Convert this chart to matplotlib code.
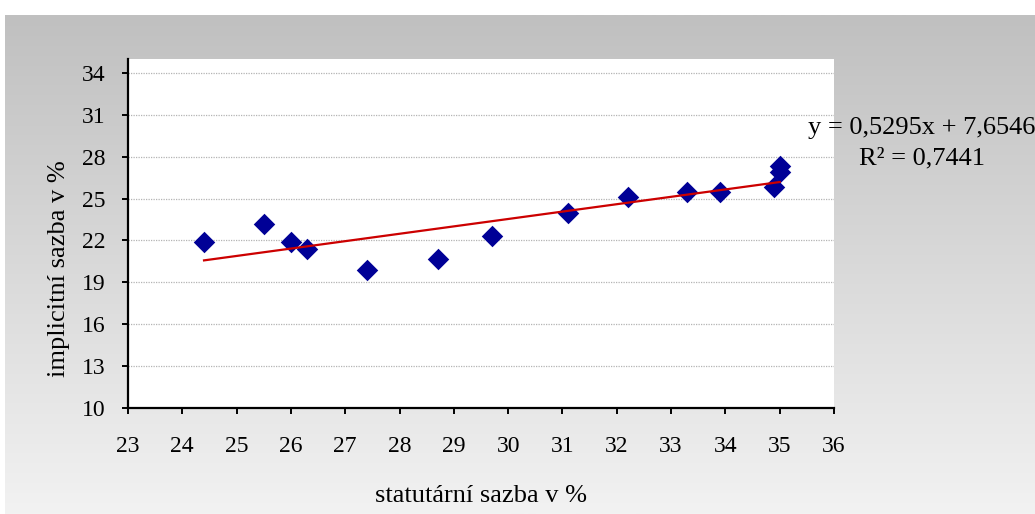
import matplotlib
matplotlib.use("Agg")
import matplotlib.pyplot as plt
import numpy as np

# data
statutarni = [24.4, 25.5, 26.0, 26.3, 27.4, 28.7, 29.7, 31.1, 32.2, 33.3, 33.9, 34.9, 35.0, 35.0]
implicitni = [21.9, 23.2, 21.9, 21.4, 19.9, 20.7, 22.3, 24.0, 25.1, 25.5, 25.5, 25.8, 27.35, 26.9]

# trend line as printed in the chart
slope = 0.5295
intercept = 7.6546
r2 = 0.7441

x_ticks = list(range(23, 37))
y_ticks = list(range(10, 35, 3))

plt.rcParams['font.family'] = ['Liberation Serif', 'DejaVu Serif']

fig = plt.figure(figsize=(10.35, 5.14), dpi=100)

# grey gradient background (white margin at top and left)
bg = fig.add_axes([5 / 1035, 0, 1 - 5 / 1035, 1 - 15 / 514], zorder=-10)
grad = np.linspace(192, 242, 256)[:, None] / 255.0
bg.imshow(np.dstack([grad, grad, grad]), aspect='auto', extent=[0, 1, 0, 1], origin='upper')
bg.axis('off')

ax = fig.add_axes([128 / 1035, (514 - 408) / 514, 706 / 1035, 349 / 514])
ax.set_facecolor('white')

ax.scatter(statutarni, implicitni, marker='D', s=120, color='#000096', zorder=3, linewidths=0)

xs = np.array([min(statutarni), max(statutarni)])
ax.plot(xs, slope * xs + intercept, color='#CC0000', lw=1.6, zorder=4)

ax.set_xlim(23, 36)
ax.set_ylim(10, 35)
ax.set_xticks(x_ticks)
ax.set_yticks(y_ticks)
ax.tick_params(axis='both', direction='out', length=4.5, width=1.4, labelsize=17)
ax.tick_params(axis='x', pad=16)
ax.tick_params(axis='y', pad=12)

for side in ['top', 'right']:
    ax.spines[side].set_visible(False)
for side in ['left', 'bottom']:
    ax.spines[side].set_linewidth(1.6)

ax.yaxis.grid(True, linestyle=(0, (1, 1)), color='#b4b4b4', lw=0.9)
ax.set_axisbelow(True)

fig.text(481 / 1035, 1 - 496 / 514, 'statutární sazba v %', ha='center', va='center', fontsize=19)
fig.text(59 / 1035, 1 - 269 / 514, 'implicitní sazba v %', ha='center', va='center',
         rotation=90, fontsize=19)

eq = 'y = ' + f'{slope:.4f}'.replace('.', ',') + 'x + ' + f'{intercept:.4f}'.replace('.', ',')
fig.text(808 / 1035, 1 - 128 / 514, eq, ha='left', va='center', fontsize=19)
fig.text(859 / 1035, 1 - 158 / 514, 'R² = ' + f'{r2:.4f}'.replace('.', ','),
         ha='left', va='center', fontsize=19)

fig.savefig('out.png', dpi=100)
